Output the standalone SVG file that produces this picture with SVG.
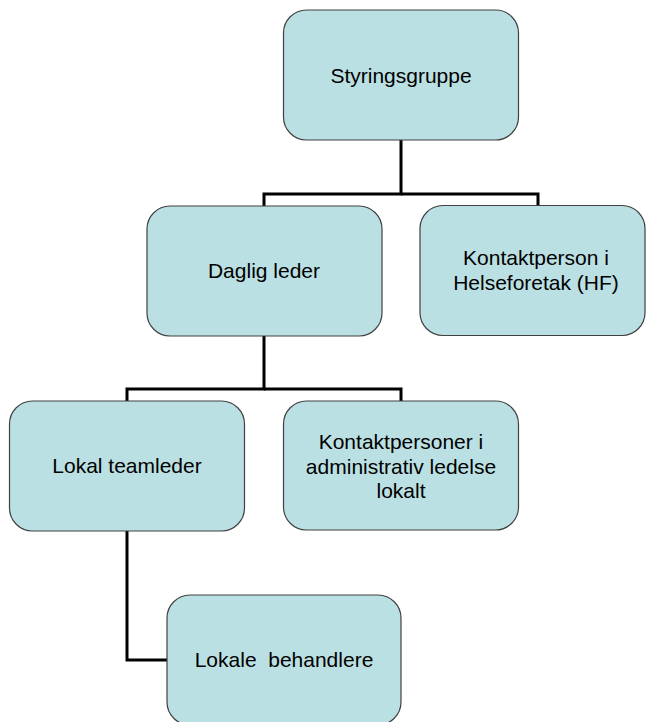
<svg xmlns="http://www.w3.org/2000/svg" width="648" height="722" viewBox="0 0 648 722">
<style>
.box{fill:#bbe0e3;stroke:#404040;stroke-width:1.2}
.lbl{font-family:"Liberation Sans",Arial,sans-serif;font-size:21px;fill:#000;text-anchor:middle;white-space:pre}
.con{fill:none;stroke:#000;stroke-width:3}
</style>
<rect width="648" height="722" fill="#fff"/>
<g id="connectors">
<polyline class="con" points="401,140 401,194 264,194 264,206"/>
<polyline class="con" points="401,194 538,194 538,205"/>
<polyline class="con" points="264,336 264,389 127,389 127,401"/>
<polyline class="con" points="264,389 401,389 401,401"/>
<polyline class="con" points="127,531 127,660 167,660"/>
</g>
<g id="styringsgruppe">
<rect class="box" x="283.5" y="10" width="235" height="130" rx="23"/>
<text class="lbl" x="401" y="83">Styringsgruppe</text>
</g>
<g id="daglig-leder">
<rect class="box" x="147" y="206" width="235" height="130" rx="23"/>
<text class="lbl" x="264" y="278">Daglig leder</text>
</g>
<g id="kontaktperson-hf">
<rect class="box" x="420" y="205.5" width="225" height="130" rx="23"/>
<text class="lbl" x="536" y="265">Kontaktperson i</text>
<text class="lbl" x="536" y="289.5">Helseforetak (HF)</text>
</g>
<g id="lokal-teamleder">
<rect class="box" x="9.5" y="401" width="235" height="130" rx="23"/>
<text class="lbl" x="127" y="473">Lokal teamleder</text>
</g>
<g id="kontaktpersoner">
<rect class="box" x="283.5" y="401" width="235" height="129" rx="23"/>
<text class="lbl" x="401" y="449">Kontaktpersoner i</text>
<text class="lbl" x="401" y="473.5">administrativ ledelse</text>
<text class="lbl" x="401" y="498">lokalt</text>
</g>
<g id="lokale-behandlere">
<rect class="box" x="167" y="595" width="234" height="130" rx="23"/>
<text class="lbl" x="284" y="667">Lokale  behandlere</text>
</g>
</svg>
